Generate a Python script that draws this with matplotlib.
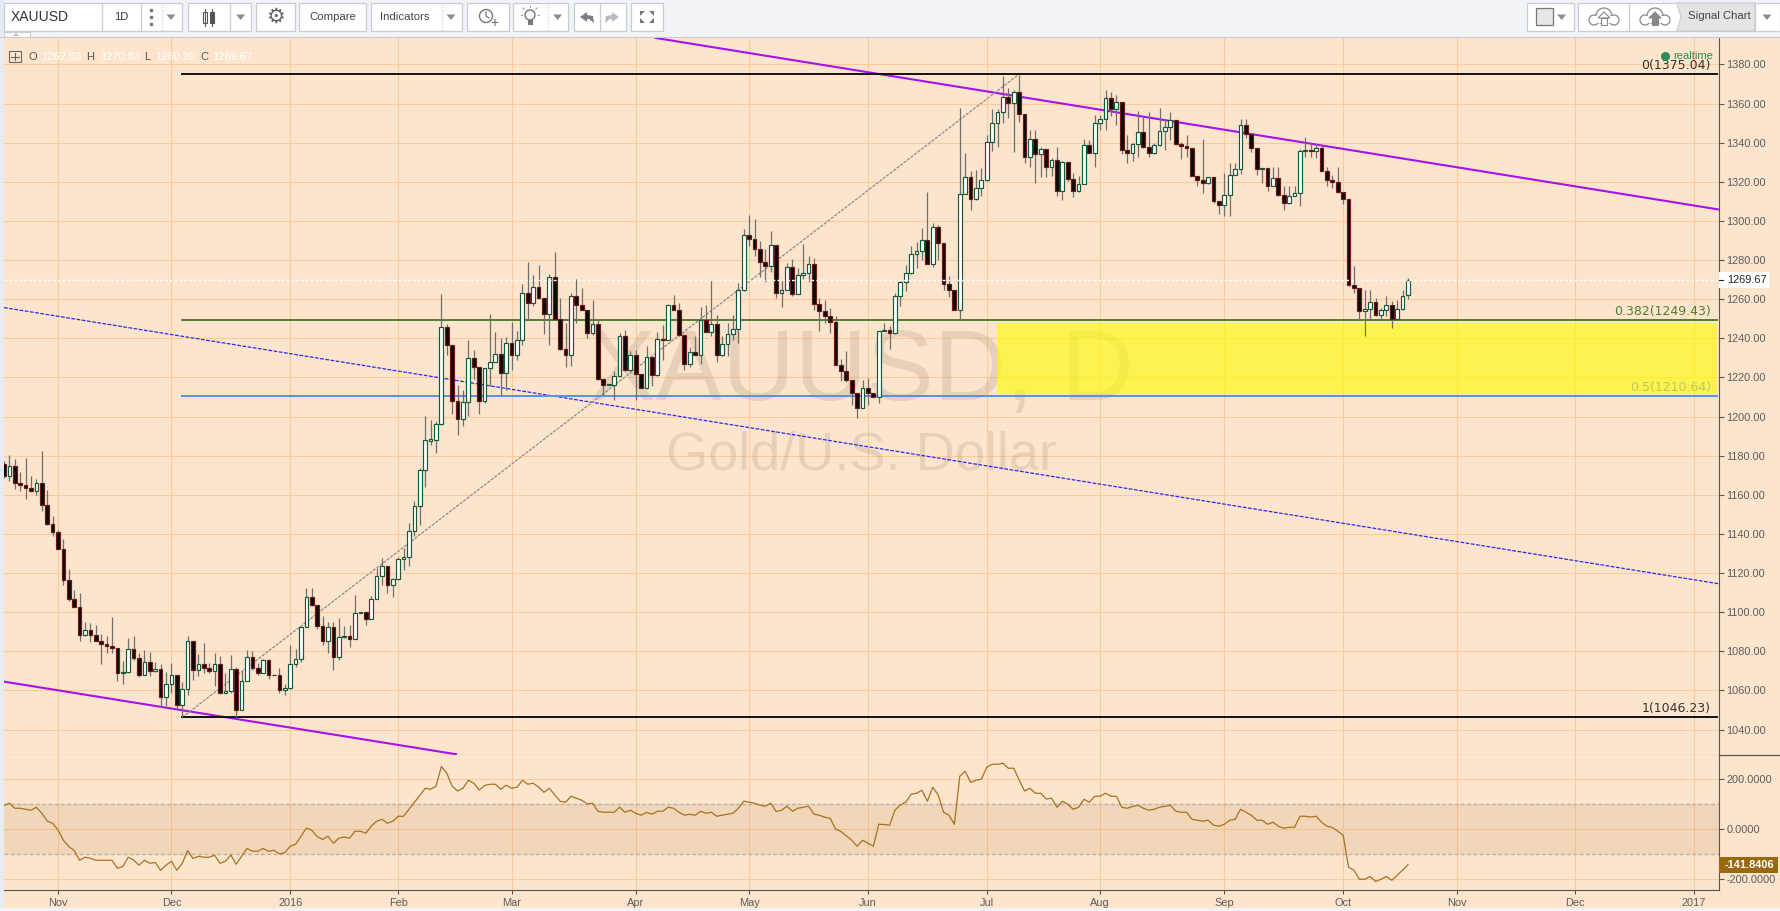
import matplotlib
matplotlib.use("Agg")
import matplotlib.pyplot as plt
from matplotlib.patches import Rectangle, Circle, Polygon
from matplotlib.transforms import blended_transform_factory

# daily candles
opens = [1175.8,1169.6,1174.8,1166.1,1165.0,1163.3,1162.0,1166.1,1154.8,1145.0,
 1141.0,1132.4,1116.5,1106.8,1102.7,1088.4,1091.0,1088.4,1085.4,1083.8,
 1082.7,1081.8,1069.0,1069.5,1081.3,1076.7,1068.0,1074.6,1070.0,1071.1,
 1056.8,1063.4,1068.0,1052.7,1060.9,1085.4,1070.7,1073.6,1071.6,1070.0,
 1073.6,1058.8,1059.8,1071.1,1050.1,1065.0,1077.2,1071.6,1069.0,1075.7,
 1068.0,1068.0,1060.4,1061.4,1073.6,1076.2,1092.5,1107.8,1103.8,1093.0,
 1085.4,1092.5,1077.2,1087.2,1087.9,1086.4,1099.7,1100.2,1096.6,1106.8,
 1118.6,1123.7,1114.0,1117.0,1127.3,1128.3,1141.6,1154.3,1172.9,1187.7,
 1188.1,1196.3,1245.8,1236.6,1208.0,1198.8,1207.5,1230.0,1225.4,1208.0,
 1224.9,1227.9,1232.0,1222.3,1237.6,1231.5,1239.2,1263.2,1258.1,1266.2,
 1260.6,1252.4,1271.3,1249.9,1234.6,1231.5,1261.6,1257.0,1254.5,1242.7,
 1247.3,1219.2,1216.0,1216.2,1220.8,1241.2,1223.8,1231.5,1221.5,1214.6,
 1230.5,1221.3,1239.7,1239.2,1257.0,1254.5,1241.5,1226.9,1233.0,1231.5,
 1249.4,1243.2,1247.3,1231.5,1237.1,1242.2,1244.8,1264.5,1292.7,1290.7,
 1285.6,1279.0,1276.7,1287.6,1263.1,1264.7,1276.4,1262.4,1272.3,1273.3,
 1277.9,1257.5,1254.0,1251.4,1248.4,1226.4,1223.3,1218.7,1212.1,1204.4,
 1214.6,1212.1,1210.0,1243.8,1244.3,1242.7,1261.4,1268.7,1273.3,1283.0,
 1284.6,1290.2,1277.9,1296.8,1288.7,1267.7,1264.7,1254.4,1313.7,1322.4,
 1311.1,1316.8,1320.8,1340.3,1350.0,1355.6,1363.2,1360.2,1365.8,1354.5,
 1332.6,1341.8,1334.1,1336.7,1327.5,1331.1,1315.2,1330.0,1321.4,1315.2,
 1319.1,1338.7,1334.6,1350.0,1352.0,1362.7,1357.1,1360.7,1336.2,1334.6,
 1339.2,1345.4,1337.7,1334.6,1338.7,1345.9,1347.9,1351.5,1339.2,1338.2,
 1337.2,1322.9,1320.8,1319.3,1322.4,1310.1,1308.1,1313.2,1323.4,1326.5,
 1348.9,1344.3,1337.2,1326.5,1327.0,1317.8,1321.9,1313.2,1309.1,1312.7,
 1314.2,1335.7,1336.2,1335.7,1337.2,1325.4,1320.8,1319.8,1314.7,1311.1,
 1267.2,1265.7,1254.0,1255.0,1258.5,1251.9,1254.4,1257.0,1249.8,1255.0,
 1262.03]
closes = [1169.5,1174.8,1166.1,1165.0,1163.3,1162.0,1166.1,1154.8,1145.0,1141.0,
 1132.4,1116.5,1106.8,1102.7,1088.4,1091.0,1088.4,1085.4,1083.8,1082.7,
 1081.8,1069.0,1069.5,1081.3,1076.7,1068.0,1074.6,1070.0,1071.1,1056.8,
 1063.4,1068.0,1052.7,1060.9,1085.4,1070.7,1073.6,1071.6,1070.0,1073.6,
 1058.6,1059.8,1071.1,1050.1,1065.0,1077.2,1071.6,1069.0,1075.7,1068.0,
 1067.7,1060.4,1061.4,1073.6,1076.2,1092.5,1107.8,1103.8,1093.0,1085.4,
 1092.5,1077.2,1087.4,1087.8,1086.4,1099.7,1100.2,1096.6,1106.8,1118.6,
 1123.7,1114.0,1117.0,1127.3,1128.3,1141.6,1154.3,1172.7,1188.1,1188.3,
 1196.3,1245.8,1236.6,1208.0,1198.8,1207.5,1230.0,1225.4,1208.0,1224.9,
 1227.9,1232.0,1222.3,1237.6,1231.5,1239.2,1263.2,1258.1,1266.2,1260.6,
 1252.4,1271.3,1249.9,1234.6,1231.5,1261.6,1257.0,1254.5,1242.7,1247.3,
 1219.2,1216.2,1216.4,1220.8,1241.2,1223.8,1231.5,1221.5,1214.6,1230.5,
 1221.3,1239.7,1239.2,1257.0,1254.5,1241.5,1226.9,1233.0,1231.5,1249.4,
 1243.2,1247.3,1231.5,1237.1,1242.2,1244.8,1264.7,1292.7,1290.7,1285.6,
 1279.0,1276.7,1287.6,1263.1,1264.7,1276.4,1262.4,1272.3,1273.3,1277.9,
 1257.5,1254.0,1251.4,1248.4,1226.4,1223.3,1218.7,1212.1,1204.4,1214.6,
 1212.1,1210.0,1243.8,1244.3,1242.7,1261.4,1268.7,1273.3,1283.0,1284.6,
 1290.2,1277.9,1296.8,1288.7,1267.7,1264.7,1254.4,1313.7,1322.4,1311.1,
 1316.8,1320.8,1340.3,1350.0,1355.6,1363.2,1360.2,1365.8,1354.5,1332.6,
 1341.8,1334.1,1336.7,1327.5,1331.1,1315.2,1330.0,1321.4,1315.2,1319.1,
 1338.7,1334.6,1350.0,1352.0,1362.7,1357.1,1360.7,1336.2,1334.6,1339.2,
 1345.4,1337.7,1334.6,1338.7,1345.9,1347.9,1351.5,1339.2,1338.2,1337.2,
 1322.9,1320.8,1319.3,1322.4,1310.1,1308.1,1313.2,1323.4,1326.5,1348.9,
 1344.3,1337.2,1326.5,1327.0,1317.8,1321.9,1313.2,1309.1,1312.7,1314.2,
 1335.7,1336.2,1335.7,1337.2,1325.4,1320.8,1319.8,1314.7,1311.1,1267.2,
 1265.7,1254.0,1255.0,1258.5,1251.9,1254.4,1257.0,1249.8,1255.0,1261.6,
 1269.67]
highs = [1177.5,1180.5,1178.5,1171.5,1179.0,1169.5,1168.1,1182.6,1162.2,1149.4,
 1142.2,1137.6,1122.3,1111.1,1109.6,1095.2,1094.7,1093.2,1089.0,1087.8,
 1097.3,1081.8,1075.0,1086.6,1087.6,1079.2,1080.6,1079.9,1074.6,1073.3,
 1069.4,1073.8,1068.0,1064.4,1087.9,1085.4,1078.4,1084.4,1074.1,1078.9,
 1077.5,1069.0,1077.9,1072.1,1069.9,1080.9,1080.1,1074.1,1076.2,1076.2,
 1068.0,1071.6,1063.1,1083.0,1081.3,1092.5,1112.4,1112.4,1103.8,1098.3,
 1094.9,1094.9,1096.8,1092.9,1093.7,1109.0,1100.2,1100.2,1108.2,1122.7,
 1127.8,1123.7,1117.5,1128.3,1132.9,1145.6,1156.7,1173.7,1200.5,1198.3,
 1197.6,1262.8,1247.5,1236.6,1216.3,1213.8,1239.3,1234.2,1225.4,1224.9,
 1252.6,1243.1,1240.0,1240.7,1248.2,1243.6,1267.8,1279.0,1272.5,1277.6,
 1260.6,1273.0,1284.3,1260.6,1247.8,1263.2,1270.5,1265.7,1254.5,1259.8,
 1249.5,1219.2,1216.4,1223.2,1242.7,1244.1,1233.4,1234.2,1221.5,1236.3,
 1230.5,1243.1,1247.0,1257.7,1262.3,1258.1,1241.5,1235.6,1241.4,1256.0,
 1257.2,1270.0,1251.9,1241.0,1247.8,1251.9,1268.3,1295.8,1303.1,1301.1,
 1289.5,1285.6,1295.0,1287.6,1269.6,1278.4,1280.5,1275.9,1288.3,1281.9,
 1281.0,1260.6,1259.8,1255.5,1251.6,1229.5,1233.5,1218.7,1212.1,1218.6,
 1219.8,1212.1,1243.8,1247.8,1246.5,1263.1,1269.9,1277.6,1287.0,1289.0,
 1296.3,1314.9,1298.9,1298.0,1288.7,1271.6,1264.7,1357.6,1334.6,1325.3,
 1326.1,1327.0,1344.0,1357.1,1357.1,1374.3,1367.8,1367.0,1374.6,1354.5,
 1346.5,1346.5,1337.7,1336.7,1332.1,1337.7,1330.4,1330.0,1324.4,1322.7,
 1342.1,1341.4,1354.2,1354.2,1367.0,1366.1,1364.4,1360.7,1344.0,1339.7,
 1356.4,1353.0,1355.9,1339.7,1357.6,1352.0,1355.6,1351.5,1340.3,1343.8,
 1337.2,1322.9,1341.8,1322.4,1322.4,1310.1,1324.4,1329.5,1329.5,1352.0,
 1352.0,1344.3,1337.2,1327.0,1327.0,1327.5,1327.5,1317.6,1317.6,1317.6,
 1336.7,1342.8,1339.7,1339.7,1338.7,1327.5,1323.6,1327.5,1314.7,1311.1,
 1276.8,1265.7,1264.8,1264.8,1260.6,1255.5,1261.8,1258.9,1259.7,1264.8,
 1270.83]
lows = [1168.6,1166.9,1163.2,1161.8,1158.1,1161.5,1160.1,1151.6,1144.6,1138.8,
 1132.4,1114.0,1105.6,1102.7,1085.2,1087.8,1084.9,1085.2,1073.3,1079.2,
 1079.2,1064.8,1063.1,1069.0,1075.5,1067.0,1067.7,1067.3,1069.4,1051.7,
 1052.3,1058.8,1050.3,1046.0,1057.5,1065.3,1067.3,1069.0,1069.0,1062.2,
 1058.5,1058.5,1058.8,1046.6,1050.0,1064.8,1070.7,1067.7,1068.7,1065.6,
 1067.7,1058.8,1057.6,1060.9,1072.1,1074.5,1092.2,1103.4,1091.2,1083.0,
 1079.2,1070.7,1075.5,1086.9,1082.1,1086.1,1099.7,1093.2,1096.3,1106.8,
 1114.1,1109.6,1107.7,1116.7,1121.8,1123.8,1138.8,1144.8,1163.9,1185.7,
 1181.3,1195.9,1231.7,1201.5,1190.5,1195.4,1200.2,1219.2,1201.5,1207.0,
 1215.5,1227.8,1210.9,1213.8,1224.0,1228.8,1236.8,1249.6,1256.4,1260.1,
 1242.4,1236.8,1249.9,1234.2,1225.2,1226.0,1247.8,1254.3,1240.2,1241.9,
 1218.6,1211.2,1216.0,1208.7,1220.6,1223.2,1223.2,1208.3,1214.6,1214.3,
 1215.8,1220.9,1229.1,1239.0,1254.5,1241.4,1223.7,1225.4,1231.5,1227.1,
 1243.2,1241.0,1227.9,1230.8,1230.8,1239.3,1237.6,1264.3,1287.3,1281.9,
 1271.3,1268.6,1274.0,1260.6,1256.0,1264.5,1261.8,1262.4,1270.3,1268.6,
 1254.6,1243.6,1247.8,1242.7,1226.4,1218.0,1217.5,1205.8,1199.3,1204.4,
 1206.1,1210.0,1206.8,1243.8,1234.6,1242.4,1256.3,1264.0,1273.0,1275.9,
 1280.2,1277.9,1276.4,1280.2,1264.8,1261.1,1254.4,1249.5,1313.7,1305.4,
 1310.8,1312.5,1320.2,1335.5,1337.7,1350.0,1352.5,1335.1,1350.5,1329.5,
 1327.5,1319.6,1322.2,1322.4,1322.7,1312.5,1310.5,1320.2,1312.2,1314.9,
 1318.8,1334.6,1327.8,1346.5,1346.5,1353.7,1349.1,1334.1,1329.5,1330.4,
 1332.9,1337.5,1332.9,1334.3,1338.4,1336.3,1341.4,1338.9,1331.4,1332.9,
 1322.7,1318.0,1314.2,1319.0,1309.1,1303.7,1302.3,1302.3,1323.4,1323.9,
 1342.3,1335.0,1323.6,1319.6,1315.4,1317.6,1312.8,1305.7,1308.8,1312.5,
 1307.4,1332.9,1332.9,1332.1,1325.3,1318.0,1316.8,1314.2,1308.8,1266.5,
 1263.1,1249.5,1241.0,1249.5,1251.6,1249.5,1251.2,1245.4,1249.5,1254.6,
 1260.20]

# indicator pane
cci = [95,104,84,84,80,76,88,64,33,24,-3,-44,-69,-85,-124,-112,-116,-124,-124,-124,
 -124,-156,-149,-112,-123,-144,-124,-136,-133,-164,-144,-128,-164,-137,-85,-117,-108,-112,-112,-104,
 -136,-128,-103,-140,-108,-77,-88,-88,-77,-88,-84,-99,-93,-68,-60,-28,5,-4,-29,-41,
 -28,-56,-36,-31,-36,-8,-8,-16,12,32,40,24,32,52,52,80,108,135,164,160,
 172,251,224,172,153,164,196,184,157,175,180,180,160,176,164,168,196,180,184,169,
 148,164,137,112,108,132,124,116,101,104,72,68,68,68,88,68,76,64,56,68,
 60,72,72,88,84,68,56,60,56,72,64,68,52,56,60,64,84,112,108,104,
 96,92,104,71,76,92,72,84,88,92,60,56,48,44,1,-9,-27,-44,-68,-44,
 -56,-68,20,19,16,77,97,108,140,144,156,112,168,137,68,56,20,212,232,188,
 196,200,248,260,260,264,244,244,197,153,164,144,144,121,124,88,112,100,80,88,
 120,108,132,132,144,132,132,88,84,91,96,84,76,80,88,92,96,72,68,68,
 40,36,32,36,16,12,20,36,40,80,68,56,36,36,20,28,12,4,8,8,
 52,52,49,52,28,12,7,-8,-24,-152,-164,-200,-200,-189,-209,-200,-189,-204,-184,-164,
 -141.84]

month_pos = [10, 31, 53, 73, 94, 117, 138, 160, 182, 203, 226, 248, 269, 291, 313]
month_labels = ["Nov", "Dec", "2016", "Feb", "Mar", "Apr", "May", "Jun", "Jul", "Aug", "Sep", "Oct", "Nov", "Dec", "2017"]

price_ticks = list(range(1040, 1400, 20))
cci_ticks = [200, 0, -200]

# fibonacci levels and the drawn lines (bar number, price)
fib_start, fib_end = 33, 317.3
fib_levels = [1375.04, 1249.43, 1210.64, 1046.23]
fib_labels = ["0(1375.04)", "0.382(1249.43)", "0.5(1210.64)", "1(1046.23)"]
fib_colors = ["#111111", "#4f7f2a", "#5590e8", "#111111"]
fib_text_colors = ["#333333", "#4f7f2a", "#bcc862", "#333333"]
upper_trend_x, upper_trend_y = [120.7, 317.6], [1393.5, 1305.8]
lower_trend_x, lower_trend_y = [0, 83.7], [1064.5, 1027.4]
channel_x, channel_y = [0, 317.6], [1255.7, 1114.5]
diag_x, diag_y = [33, 188], [1046.23, 1375.04]
zone_x, zone_y = [183.9, 317.3], [1211.7, 1248.0]
last_close = 1269.67

BG = "#fde5cd"
GRID = "#fcca98"
TOOLBAR = "#f1f3f9"
GREY = "#5c5c5c"
FONT = "Liberation Sans"

fig = plt.figure(figsize=(17.8, 9.11), dpi=100, facecolor=BG)
ax = fig.add_axes([4 / 1780, (911 - 755) / 911, 1715 / 1780, 718 / 911], facecolor=BG)
sub = fig.add_axes([4 / 1780, (911 - 890) / 911, 1715 / 1780, 135 / 911], facecolor=BG)

for a in (ax, sub):
    a.set_xlim(0, 317.6)
    a.set_xticks(month_pos)
    a.grid(True, color=GRID, lw=0.75, zorder=0)
    a.set_axisbelow(True)
    for side in ("top", "left"):
        a.spines[side].set_visible(False)
    a.spines["right"].set_color("#555555")
    a.spines["bottom"].set_color("#555555")
    a.yaxis.tick_right()
    a.tick_params(axis="y", length=3.5, width=0.8, color="#555555", pad=2, labelcolor=GREY, labelsize=7.9)
    a.tick_params(axis="x", length=3, width=0.8, color="#555555", pad=2.5, labelcolor=GREY, labelsize=7.9)

ax.set_ylim(1027.0, 1394.0)
ax.set_yticks(price_ticks)
ax.set_yticklabels(["%.2f" % p for p in price_ticks], family=FONT)
ax.tick_params(axis="x", length=0, labelbottom=False)

# watermark
ax.text(0.5, 0.4944, "XAUUSD, D", transform=ax.transAxes, ha="center", va="baseline",
        family=FONT, fontsize=72, color="#8a7f72", alpha=0.2, zorder=1)
ax.text(0.5, 0.397, "Gold/U.S. Dollar", transform=ax.transAxes, ha="center", va="baseline",
        family=FONT, fontsize=39, color="#8a7f72", alpha=0.2, zorder=1)

# drawings sit under the candles
ax.add_patch(Rectangle((zone_x[0], zone_y[0]), zone_x[1] - zone_x[0], zone_y[1] - zone_y[0],
                       facecolor="#fffc0a", edgecolor="none", alpha=0.65, zorder=1.5))
ax.plot(upper_trend_x, upper_trend_y, color="#a611ee", lw=1.5, zorder=2)
ax.plot(lower_trend_x, lower_trend_y, color="#a611ee", lw=1.5, zorder=2)
ax.plot(channel_x, channel_y, color="#2a2aee", lw=0.9, ls=(0, (3, 1.2)), zorder=2)
ax.plot(diag_x, diag_y, color="#8c8c8c", lw=0.9, ls=(0, (2.5, 1)), zorder=2)
for lvl, col in zip(fib_levels, fib_colors):
    ax.plot([fib_start, fib_end], [lvl, lvl], color=col, lw=1.4, zorder=2.2)
for lvl, txt, col in zip(fib_levels, fib_labels, fib_text_colors):
    ax.annotate(txt, xy=(316.1, lvl), xytext=(0, 1.5), textcoords="offset points", ha="right", va="bottom",
                fontsize=9, color=col, zorder=2.3)

# candles
idx = list(range(len(opens)))
ax.vlines(idx, lows, highs, color="#6e6e6e", lw=0.9, zorder=3)
up = [i for i in idx if closes[i] >= opens[i]]
down = [i for i in idx if closes[i] < opens[i]]
ax.bar(up, [closes[i] - opens[i] for i in up], bottom=[opens[i] for i in up], width=0.7,
       facecolor="white", edgecolor="#14593a", lw=0.85, zorder=3.2)
ax.bar(down, [closes[i] - opens[i] for i in down], bottom=[opens[i] for i in down], width=0.7,
       facecolor="#0a0a0a", edgecolor="#6b1a16", lw=0.85, zorder=3.2)
ax.axhline(last_close, color="white", lw=1.0, ls=(0, (2, 1.5)), zorder=4)

# last price tag
tr = blended_transform_factory(ax.transAxes, ax.transData)
ax.add_patch(Rectangle((1.0, last_close - 4.1), 50 / 1715, 8.2, transform=tr, facecolor="white",
                       edgecolor="none", clip_on=False, zorder=5))
ax.plot([1.0, 1 + 4 / 1715], [last_close, last_close], transform=tr, color="#222222", lw=0.8, clip_on=False, zorder=6)
ax.text(1 + 8 / 1715, last_close, "%.2f" % last_close, transform=tr, family=FONT, fontsize=7.9,
        color="#222222", va="center", zorder=6)

# realtime marker
ax.plot([0.9687], [0.973], marker="o", ms=5.5, color="#2e8b57", transform=ax.transAxes, zorder=6)
ax.text(0.9735, 0.973, "realtime", transform=ax.transAxes, family=FONT, fontsize=8, color="#2e8b57",
        va="center", zorder=6)

# indicator pane
sub.set_ylim(-243, 297)
sub.set_yticks(cci_ticks)
sub.set_yticklabels(["%.4f" % v for v in cci_ticks], family=FONT)
sub.set_xticklabels(month_labels, family=FONT)
sub.axhspan(-100, 100, facecolor="#a9712a", alpha=0.12, edgecolor="none", zorder=1)
for lvl in (-100, 100):
    sub.axhline(lvl, color="#b8b2a8", lw=1.0, ls=(0, (3, 1.5)), zorder=1.5)
sub.plot(idx, cci, color="#a6721f", lw=0.9, zorder=3)
tr2 = blended_transform_factory(sub.transAxes, sub.transData)
sub.add_patch(Rectangle((1.0, cci[-1] - 32), 59 / 1715, 64, transform=tr2, facecolor="#99680f",
                        edgecolor="none", clip_on=False, zorder=5))
sub.text(1 + 6 / 1715, cci[-1], "-141.8406", transform=tr2, family=FONT, fontsize=7.9, fontweight="bold",
         color="white", va="center", zorder=6)

# toolbar and the strips round the chart, in pixel coordinates
top = fig.add_axes([0, 0, 1, 1], zorder=10)
top.set_xlim(0, 1780)
top.set_ylim(911, 0)
top.axis("off")


def box(x0, x1, y0=3, y1=31, fc="white", ec="#c9ccd3", lw=0.9):
    top.add_patch(Rectangle((x0, y0), x1 - x0, y1 - y0, facecolor=fc, edgecolor=ec, lw=lw))


def vline(x, dotted=False, y0=3, y1=31):
    top.plot([x, x], [y0, y1], color="#c9ccd3", lw=0.9, ls=":" if dotted else "-")


def tri(x, y=17, s=4.5, col="#8a8d93"):
    top.add_patch(Polygon([(x - s, y - 2.5), (x + s, y - 2.5), (x, y + 3)], facecolor=col, edgecolor="none"))


def label(x, y, s, size=8.2, col="#444444", ha="center", **kw):
    top.text(x, y, s, family=FONT, fontsize=size, color=col, ha=ha, va="center", **kw)


top.add_patch(Rectangle((0, 0), 1780, 37, facecolor=TOOLBAR, edgecolor="none"))
top.add_patch(Rectangle((0, 0), 4, 911, facecolor="#e8ebf3", edgecolor="none"))
top.add_patch(Rectangle((0, 908), 1780, 3, facecolor=TOOLBAR, edgecolor="none"))
top.plot([0, 1780], [37, 37], color="#c9ccd3", lw=0.8)
top.plot([1719, 1780], [755, 755], color="#555555", lw=0.9)

box(3.5, 182)
vline(102)
vline(140.6)
vline(161.6, dotted=True)
label(11, 17, "XAUUSD", size=10, col="#333333", ha="left")
label(121, 17, "1D", size=8, col="#333333")
top.plot([151, 151, 151], [10, 17, 24], ls="none", marker="s", ms=2, color="#777777")
tri(171)

box(187.5, 251)
vline(230)
top.plot([205, 205], [9, 26], color="#555555", lw=0.8)
top.plot([212, 212], [9, 26], color="#555555", lw=0.8)
top.add_patch(Rectangle((203, 12), 4, 11, facecolor="white", edgecolor="#555555", lw=0.8))
top.add_patch(Rectangle((210, 12), 4, 11, facecolor="#555555", edgecolor="#555555", lw=0.8))
tri(240.6)

box(256, 295)
top.text(275, 16.5, "\u2699", family="DejaVu Sans", fontsize=15, color="#666666", ha="center", va="center")

box(299, 365.6)
label(332.6, 17, "Compare")

box(370.5, 462)
vline(441.5, dotted=True)
label(405, 17, "Indicators")
tri(451)

box(467.4, 508.5)
top.add_patch(Circle((486, 16), 6.5, facecolor="none", edgecolor="#777777", lw=1.0))
top.plot([486, 486, 489], [12, 16, 18], color="#777777", lw=0.9)
label(494, 23, "+", size=10, col="#666666")

box(513.4, 568)
vline(548, dotted=True)
top.add_patch(Circle((530, 15), 5, facecolor="#f7f7f7", edgecolor="#777777", lw=1.0))
top.add_patch(Rectangle((527.5, 20), 5, 5, facecolor="#777777", edgecolor="none"))
for dx, dy in [(-9, 0), (9, 0), (-7, -7), (7, -7), (0, -9)]:
    top.plot([530 + dx * 0.85, 530 + dx], [15 + dy * 0.85, 15 + dy], color="#999999", lw=0.8)
tri(557.6)

box(573.7, 625.5)
vline(599.6)
top.add_patch(Polygon([(580, 17), (587, 12), (587, 15), (593, 16), (594, 23), (589, 19), (587, 19), (587, 22)],
                      facecolor="#7d7f85", edgecolor="none"))
top.add_patch(Polygon([(619, 17), (612, 12), (612, 15), (606, 16), (605, 23), (610, 19), (612, 19), (612, 22)],
                      facecolor="#b9bbc0", edgecolor="none"))

box(631, 662.5)
for cx, cy, sx, sy in [(640, 11, 1, 1), (654, 11, -1, 1), (640, 23, 1, -1), (654, 23, -1, -1)]:
    top.add_patch(Polygon([(cx, cy), (cx + 5 * sx, cy), (cx, cy + 5 * sy)], facecolor="#777777", edgecolor="none"))

# tab under the toolbar
top.add_patch(Rectangle((3.6, 32), 26, 5, facecolor="white", edgecolor="#c9ccd3", lw=0.8))
top.add_patch(Polygon([(13, 36), (19, 36), (16, 33)], facecolor="#bbbbbb", edgecolor="none"))

# right hand toolbar
box(1527.3, 1573.7)
top.add_patch(Rectangle((1536, 8.3), 17, 16.7, facecolor="#e6e6e6", edgecolor="#777777", lw=0.9))
tri(1561.7)
box(1578.3, 1779.5)
vline(1629)
top.add_patch(Polygon([(1676.7, 3), (1755, 3), (1755, 31), (1676.7, 31), (1681, 17)], facecolor="#e4e4e4",
                      edgecolor="#c9ccd3", lw=0.8))
vline(1755)
label(1719, 16, "Signal Chart", size=8.2, col="#444444")
tri(1767)
for cx, col, fc in [(1604, "#888888", "white"), (1655, "#888888", "#888888")]:
    for dx, dy, r in [(-10, 3, 5), (0, -1, 8), (10, 3, 5)]:
        top.add_patch(Circle((cx + dx, 17 + dy), r, facecolor="white", edgecolor=col, lw=0.9))
    top.add_patch(Rectangle((cx - 11, 16), 22, 6.5, facecolor="white", edgecolor="none"))
    top.add_patch(Polygon([(cx - 6, 18), (cx + 6, 18), (cx, 12)], facecolor=fc, edgecolor=col, lw=0.8))
    top.add_patch(Rectangle((cx - 3, 18), 6, 7, facecolor=fc, edgecolor=col, lw=0.8))

# OHLC legend
top.add_patch(Rectangle((9, 51), 12, 11, facecolor="none", edgecolor="#666666", lw=0.8))
top.plot([11, 19], [56.5, 56.5], color="#666666", lw=0.8)
top.plot([15, 15], [53, 60], color="#666666", lw=0.8)
for x, s in [(28.5, "O"), (86, "H"), (144.5, "L"), (200, "C")]:
    label(x, 57, s, size=8, col="#555555", ha="left")
for x, s in [(41, "1262.03"), (100, "1270.83"), (155, "1260.20"), (212, "1269.67")]:
    label(x, 57, s, size=8, col="white", ha="left")

fig.savefig("out.png", dpi=100, facecolor=fig.get_facecolor())
